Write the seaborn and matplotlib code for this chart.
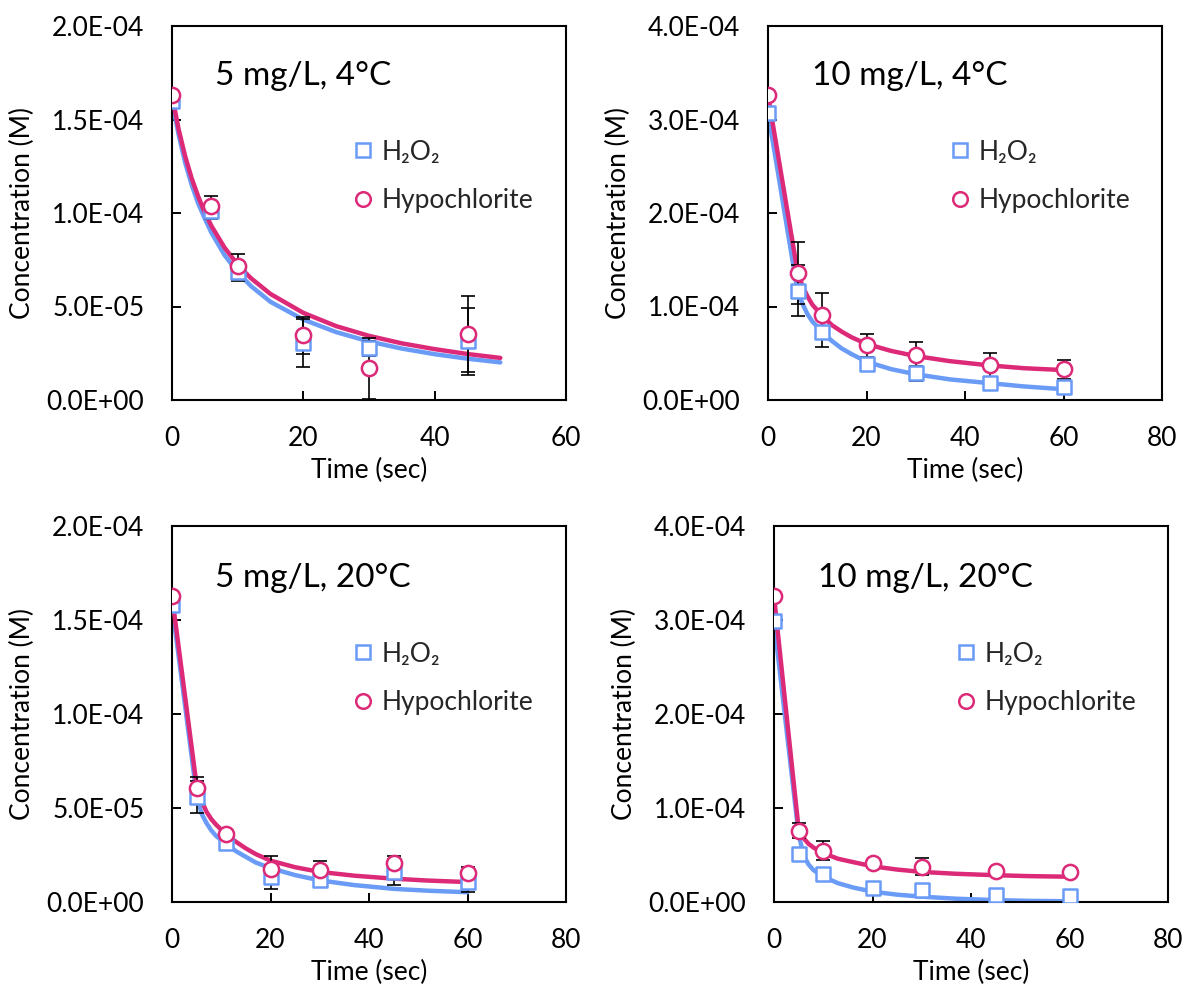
import numpy as np
import pandas as pd
import matplotlib
matplotlib.use("Agg")
import matplotlib.pyplot as plt
from matplotlib.lines import Line2D
import seaborn as sns

sns.set_theme(style="white")
plt.rcParams['font.family'] = ['Lato', 'DejaVu Sans']

# ---------------- data (concentrations in micro-molar, converted to M) ----------------
titles = ["5 mg/L, 4°C", "10 mg/L, 4°C", "5 mg/L, 20°C", "10 mg/L, 20°C"]
series_names = ["H₂O₂", "Hypochlorite"]

# Panel 1: 5 mg/L, 4°C
p1_t = [0, 6, 10, 20, 30, 45]
p1_h2o2 = [160, 101, 68.4, 30.6, 27.6, 31.5]
p1_h2o2_err = [0, 4, 5, 12.8, 4, 17.9]
p1_hypo = [163, 104, 71.5, 34.5, 16.9, 35.2]
p1_hypo_err = [0, 5, 6.5, 10, 16.5, 20.3]
p1_fit_t = [0, 1, 2, 3, 4, 5, 6, 8, 10, 12, 15, 20, 25, 30, 35, 40, 45, 50]
p1_fit_h2o2 = [160, 142, 127, 115, 105, 97, 89.5, 77.5, 68.4, 61, 52.5, 43, 36.3, 31.3, 27.5, 24.5, 22.1, 20.1]
p1_fit_hypo = [163, 144.9, 130.4, 118.5, 108.7, 100.3, 93.1, 81.5, 72.4, 65.2, 56.7, 46.6, 39.5, 34.3, 30.3, 27.2, 24.6, 22.5]

# Panel 2: 10 mg/L, 4°C
p2_t = [0, 6, 11, 20, 30, 45, 60]
p2_h2o2 = [307, 117, 73, 39, 28.4, 18.5, 14.2]
p2_h2o2_err = [0, 27.5, 16.7, 6, 8, 5, 4]
p2_hypo = [326, 136, 91.4, 58.7, 48, 37.3, 32.7]
p2_hypo_err = [0, 33, 23.5, 12.4, 14.2, 12.5, 10]
p2_fit_t = [0, 2, 4, 6, 7, 8, 9, 11, 13, 15, 17, 20, 25, 30, 37, 45, 52, 60]
p2_fit_h2o2 = [307, 244, 180, 117, 103, 92, 84, 73, 63, 55, 49, 41, 33, 27.5, 22, 18, 14.5, 11.5]
p2_fit_hypo = [326, 263, 200, 137, 122, 111, 102, 90, 80, 73, 67, 60, 52.5, 47, 41.5, 37, 34, 32]

# Panel 3: 5 mg/L, 20°C
p3_t = [0, 5, 11, 20, 30, 45, 60]
p3_h2o2 = [158, 55.9, 31.3, 13.2, 11.8, 15.9, 10.6]
p3_h2o2_err = [0, 8.5, 3, 6.5, 3, 7, 5.5]
p3_hypo = [162.8, 60.7, 36.3, 17.7, 16.8, 20.7, 15.4]
p3_hypo_err = [0, 6, 2, 6.7, 4.8, 4, 3.2]
p3_fit_t = [0, 5, 6, 7, 8, 9, 11, 13, 15, 17, 20, 25, 30, 37, 45, 52, 60]
p3_fit_h2o2 = [158, 57, 47, 42, 38, 35, 31, 27, 24, 21, 18, 14.3, 11.5, 9, 7, 6, 5.2]
p3_fit_hypo = [162.8, 62, 54, 48, 44, 41, 36, 32, 28.5, 25.5, 22, 18.5, 16, 14, 12.4, 11.4, 10.6]

# Panel 4: 10 mg/L, 20°C
p4_t = [0, 5, 10, 20, 30, 45, 60]
p4_h2o2 = [299, 50.7, 29.5, 15.2, 12.8, 7.4, 6.4]
p4_h2o2_err = [0, 3, 3, 2, 2, 2, 2]
p4_hypo = [325.5, 75.9, 54.6, 41.2, 37.6, 33, 31.6]
p4_hypo_err = [0, 8, 9.8, 2, 9, 2, 2]
p4_fit_t = [0, 2, 4, 5, 6, 7, 8, 10, 13, 16, 20, 25, 30, 37, 45, 52, 60]
p4_fit_h2o2 = [299, 208, 117, 72, 50, 40, 34, 27, 20, 15.5, 11, 7.8, 5.7, 3.5, 2, 1.2, 0.8]
p4_fit_hypo = [325.5, 226, 127, 78, 68, 62, 58, 52, 46, 42.5, 38, 34.5, 32, 30, 28.5, 27.5, 26.9]

y_ticks_5 = [0, 5e-5, 1e-4, 1.5e-4, 2e-4]
y_ticks_10 = [0, 1e-4, 2e-4, 3e-4, 4e-4]
x_ticks_60 = [0, 20, 40, 60]
x_ticks_80 = [0, 20, 40, 60, 80]

panels = [
    dict(t=p1_t, h=p1_h2o2, he=p1_h2o2_err, c=p1_hypo, ce=p1_hypo_err,
         ft=p1_fit_t, fh=p1_fit_h2o2, fc=p1_fit_hypo, yt=y_ticks_5, xt=x_ticks_60),
    dict(t=p2_t, h=p2_h2o2, he=p2_h2o2_err, c=p2_hypo, ce=p2_hypo_err,
         ft=p2_fit_t, fh=p2_fit_h2o2, fc=p2_fit_hypo, yt=y_ticks_10, xt=x_ticks_80),
    dict(t=p3_t, h=p3_h2o2, he=p3_h2o2_err, c=p3_hypo, ce=p3_hypo_err,
         ft=p3_fit_t, fh=p3_fit_h2o2, fc=p3_fit_hypo, yt=y_ticks_5, xt=x_ticks_80),
    dict(t=p4_t, h=p4_h2o2, he=p4_h2o2_err, c=p4_hypo, ce=p4_hypo_err,
         ft=p4_fit_t, fh=p4_fit_h2o2, fc=p4_fit_hypo, yt=y_ticks_10, xt=x_ticks_80),
]

BLUE = "#6A9BF7"
PINK = "#DC2A78"
UM = 1e-6

W, H = 1185, 989
fig = plt.figure(figsize=(W / 100, H / 100), dpi=100)

# axes boxes in pixels: left, top, right, bottom
boxes = [(172, 26, 566, 400), (768, 26, 1162, 400), (172, 526, 566, 902), (774, 526, 1168, 902)]
title_pos = [(0.109, 0.865), (0.112, 0.865), (0.109, 0.862), (0.112, 0.862)]
leg_anchor = [(0.458, 0.696), (0.461, 0.696), (0.458, 0.6925), (0.46, 0.6925)]

FS = 19
for i, (p, b) in enumerate(zip(panels, boxes)):
    l, t, r, btm = b
    ax = fig.add_axes([l / W, (H - btm) / H, (r - l) / W, (btm - t) / H])
    ax.set_facecolor("white")

    # fitted curves
    sns.lineplot(x=p["ft"], y=np.array(p["fh"]) * UM, ax=ax, color=BLUE, lw=3.2,
                 sort=False, estimator=None, zorder=2)
    sns.lineplot(x=p["ft"], y=np.array(p["fc"]) * UM, ax=ax, color=PINK, lw=3.2,
                 sort=False, estimator=None, zorder=3)

    # error bars
    ax.errorbar(p["t"], np.array(p["h"]) * UM, yerr=np.array(p["he"]) * UM, fmt="none",
                ecolor="black", elinewidth=1.2, capsize=5, capthick=1.2, zorder=4)
    ax.errorbar(p["t"], np.array(p["c"]) * UM, yerr=np.array(p["ce"]) * UM, fmt="none",
                ecolor="black", elinewidth=1.2, capsize=5, capthick=1.2, zorder=4)

    # markers
    sns.scatterplot(x=p["t"], y=np.array(p["h"]) * UM, ax=ax, marker="s", s=115,
                    facecolor="white", edgecolor=BLUE, linewidth=1.8, zorder=5)
    sns.scatterplot(x=p["t"], y=np.array(p["c"]) * UM, ax=ax, marker="o", s=120,
                    facecolor="white", edgecolor=PINK, linewidth=1.8, zorder=6)

    ax.set_xlim(p["xt"][0], p["xt"][-1])
    ax.set_ylim(p["yt"][0], p["yt"][-1])
    ax.set_xticks(p["xt"])
    ax.set_yticks(p["yt"])
    ax.set_yticklabels(["{:.1E}".format(v) for v in p["yt"]])
    ax.tick_params(axis="both", direction="in", length=6.5, width=1.4, color="black",
                   labelsize=FS, labelcolor="black", bottom=True, left=True)
    ax.tick_params(axis="x", pad=19)
    ax.tick_params(axis="y", pad=20)
    for s in ax.spines.values():
        s.set_color("black")
        s.set_linewidth(1.5)
    ax.grid(False)

    ax.set_xlabel("Time (sec)", fontsize=FS, color="black", labelpad=5)
    ax.set_ylabel("Concentration (M)", fontsize=FS, color="black", labelpad=8)

    ax.text(title_pos[i][0], title_pos[i][1], titles[i], transform=ax.transAxes,
            fontsize=24, va="center", ha="left", color="black")

    handles = [
        Line2D([], [], marker="s", ls="none", mfc="white", mec=BLUE, ms=10.5, mew=1.8),
        Line2D([], [], marker="o", ls="none", mfc="white", mec=PINK, ms=10.5, mew=1.8),
    ]
    ax.legend(handles, series_names, loc="upper left", bbox_to_anchor=leg_anchor[i],
              frameon=False, fontsize=FS, handlelength=0.8, handletextpad=0.3,
              labelspacing=0.88, borderpad=0, borderaxespad=0)

fig.savefig("out.png", dpi=100, facecolor="white")
